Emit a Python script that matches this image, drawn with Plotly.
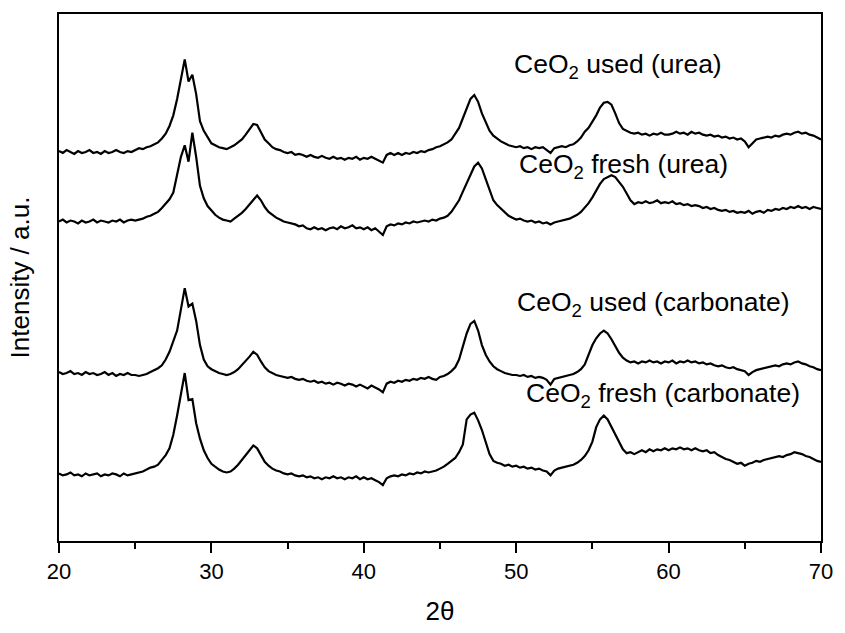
import numpy as np
import plotly.graph_objects as go

# 2-theta sampling grid (degrees), 0.25 deg step from 20 to 70
two_theta = [round(20 + 0.25 * i, 2) for i in range(201)]

# Intensities (a.u., offset/stacked as in the figure)
used_urea = [
    404, 402, 405, 403, 401, 404, 402, 403, 405, 402, 403, 401, 404, 402, 403, 405, 403, 402, 404, 403,
    405, 407, 406, 408, 409, 411, 413, 417, 422, 430, 441, 458, 478, 499, 476, 483, 463, 435, 425, 418,
    412, 410, 408, 407, 406, 408, 410, 413, 416, 421, 427, 432, 431, 423, 416, 412, 408, 406, 405, 403,
    402, 403, 400, 401, 400, 398, 400, 398, 397, 399, 397, 396, 398, 396, 397, 395, 397, 396, 398, 395,
    397, 396, 398, 396, 394, 392, 400, 402, 400, 402, 400, 402, 401, 403, 402, 404, 403, 405, 406, 408,
    409, 411, 413, 416, 422, 428, 438, 448, 458, 462, 455, 443, 433, 425, 420, 417, 414, 412, 410, 409,
    408, 409, 407, 408, 406, 408, 407, 408, 405, 402, 407, 408, 409, 408, 410, 411, 414, 418, 424, 428,
    434, 441, 449, 454, 455, 452, 443, 433, 427, 425, 423, 422, 423, 421, 422, 420, 422, 421, 423, 421,
    421, 422, 424, 422, 423, 421, 424, 422, 423, 421, 420, 421, 419, 420, 418, 419, 417, 418, 416, 417,
    414, 408, 412, 416, 417, 418, 419, 418, 420, 419, 421, 422, 421, 423, 424, 422, 423, 421, 420, 418,
    416,
]

fresh_urea = [
    331, 333, 330, 332, 331, 329, 332, 330, 331, 333, 330, 332, 331, 330, 332, 331, 333, 330, 332, 333,
    332, 333, 334, 336, 337, 339, 341, 345, 349, 354, 361, 380, 398, 410, 393, 423, 398, 368, 355, 347,
    342, 338, 335, 333, 332, 331, 334, 337, 340, 344, 349, 354, 358, 353, 346, 341, 338, 335, 333, 331,
    330, 329, 328, 326, 327, 324, 323, 325, 323, 324, 322, 324, 325, 323, 326, 324, 325, 327, 324, 325,
    323, 325, 322, 324, 320, 317, 326, 328, 327, 329, 328, 330, 329, 331, 330, 331, 332, 331, 333, 332,
    334, 335, 337, 341, 347, 353, 362, 371, 380, 388, 392, 386, 375, 363, 353, 348, 344, 340, 337, 335,
    333, 334, 332, 331, 332, 330, 331, 329, 330, 328, 330, 331, 332, 333, 334, 336, 338, 341, 345, 350,
    356, 363, 370, 375, 377, 379, 377, 372, 367, 360, 353, 349, 351, 350, 352, 350, 351, 353, 350, 351,
    350, 352, 349, 350, 348, 349, 347, 348, 347, 345, 346, 344, 345, 343, 342, 343, 341, 342, 340, 341,
    340, 342, 339, 341, 342, 340, 343, 342, 344, 343, 345, 344, 346, 345, 347, 345, 346, 344, 346, 345,
    344,
]

used_carbonate = [
    175, 173, 174, 176, 173, 174, 172, 175, 173, 174, 172, 173, 175, 172, 174, 171, 173, 172, 174, 172,
    172, 171, 172, 173, 175, 177, 179, 182, 188, 196, 206, 218, 240, 262, 243, 246, 228, 203, 188, 181,
    178, 176, 174, 173, 172, 173, 175, 178, 182, 187, 191, 196, 193, 186, 180, 176, 174, 172, 171, 170,
    169, 170, 168, 167, 168, 166, 165, 166, 164, 165, 163, 164, 162, 164, 163, 161, 163, 162, 160, 162,
    160, 158, 161, 159, 157, 154, 163, 165, 164, 166, 165, 167, 166, 168, 167, 169, 168, 170, 168, 167,
    170, 171, 173, 176, 180, 188, 201, 215, 225, 228, 218, 203, 193, 186, 181, 178, 176, 174, 173, 172,
    172, 171, 172, 170, 171, 169, 170, 169, 167, 162, 168, 169, 170, 171, 172, 173, 175, 178, 183, 193,
    203, 210, 215, 218, 215, 209, 202, 195, 190, 187, 185, 186, 184, 186, 185, 187, 185, 186, 184, 186,
    185, 187, 184, 186, 185, 187, 185, 186, 184, 185, 183, 184, 182, 181, 182, 180, 179, 180, 178, 177,
    176, 172, 175, 177, 178, 179, 180, 181, 182, 181, 183, 184, 183, 185, 186, 184, 183, 181, 180, 178,
    177,
]

fresh_carbonate = [
    70, 68, 69, 71, 68, 69, 67, 70, 68, 69, 70, 67, 69, 68, 70, 69, 67, 70, 68, 69,
    70, 71, 72, 74, 76, 77, 79, 84, 89, 96, 110, 130, 153, 174, 146, 147, 122, 106, 94, 86,
    80, 77, 74, 72, 71, 72, 75, 79, 84, 89, 95, 99, 96, 89, 82, 78, 75, 73, 72, 70,
    69, 70, 68, 67, 68, 66, 67, 65, 66, 64, 66, 65, 67, 65, 66, 64, 66, 65, 67, 64,
    66, 64, 65, 63, 61, 58, 65, 67, 68, 67, 69, 68, 70, 69, 71, 70, 72, 71, 72, 73,
    75, 77, 80, 83, 86, 92, 100, 126, 131, 133, 125, 115, 103, 90, 83, 81, 80, 78, 79, 77,
    78, 76, 77, 75, 76, 74, 75, 73, 72, 68, 73, 75, 76, 77, 78, 79, 81, 84, 88, 94,
    103, 118, 126, 130, 126, 118, 110, 102, 95, 91, 92, 90, 92, 94, 92, 95, 93, 95, 94, 96,
    94, 96, 95, 97, 95, 96, 94, 96, 94, 93, 94, 91, 92, 89, 87, 85, 84, 82, 80, 81,
    78, 80, 81, 83, 82, 84, 85, 86, 87, 88, 87, 89, 90, 92, 91, 90, 88, 87, 85, 83,
    82,
]

series = [
    ("CeO<sub>2</sub> used (urea)", used_urea),
    ("CeO<sub>2</sub> fresh (urea)", fresh_urea),
    ("CeO<sub>2</sub> used (carbonate)", used_carbonate),
    ("CeO<sub>2</sub> fresh (carbonate)", fresh_carbonate),
]

# label anchor positions (2theta, intensity)
label_x = [49.74, 50.06, 49.93, 50.51]
label_y = [492, 389, 246, 151]

x_ticks = [20, 30, 40, 50, 60, 70]

FONT = "Arial, 'Liberation Sans', Helvetica, sans-serif"

fig = go.Figure()
for name, vals in series:
    assert len(vals) == len(two_theta), (name, len(vals))
    fig.add_trace(go.Scatter(
        x=two_theta, y=vals, mode="lines", name=name,
        line=dict(color="black", width=2.2),
        showlegend=False,
    ))

for (name, _), lx, ly in zip(series, label_x, label_y):
    fig.add_annotation(
        x=lx, y=ly, xref="x", yref="y", text=name, showarrow=False,
        xanchor="left", yanchor="middle",
        font=dict(family=FONT, size=26.5, color="black"),
    )

fig.update_layout(
    width=845, height=633,
    margin=dict(l=59, r=13, t=12, b=75),
    paper_bgcolor="white", plot_bgcolor="white",
    font=dict(family=FONT, color="black"),
    xaxis=dict(
        range=[20, 70], tickvals=x_ticks, ticks="outside", ticklen=10, tickwidth=2,
        tickcolor="black", showline=True, linewidth=2, linecolor="black", mirror=True,
        showgrid=False, zeroline=False, tickfont=dict(size=22, family=FONT),
        minor=dict(dtick=5, tick0=20, ticks="outside", ticklen=6, tickwidth=2, tickcolor="black", showgrid=False),
        title=dict(text="2θ", font=dict(size=26, family=FONT), standoff=18),
    ),
    yaxis=dict(
        range=[0, 546], showticklabels=False, ticks="", showline=True, linewidth=2,
        linecolor="black", mirror=True, showgrid=False, zeroline=False,
        title=dict(text="Intensity / a.u.", font=dict(size=26, family=FONT), standoff=20),
    ),
)

fig.write_html("out.html")
